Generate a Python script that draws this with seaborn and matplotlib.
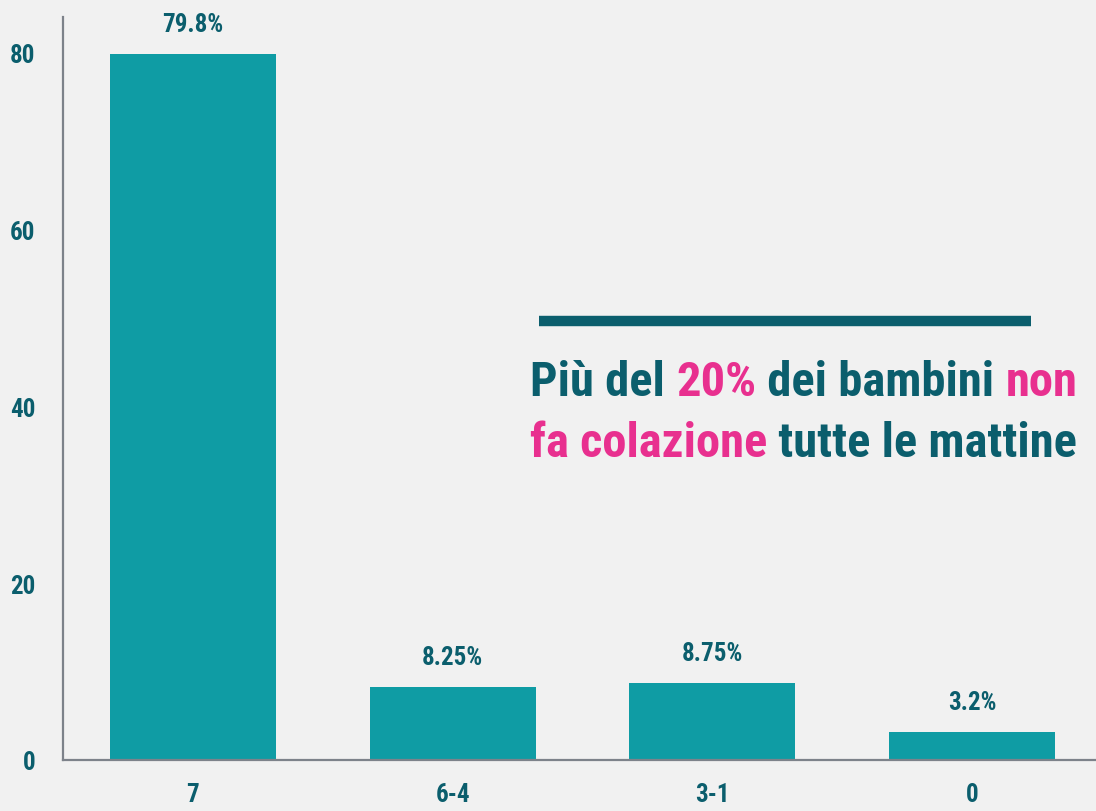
import numpy as np
import pandas as pd
import matplotlib.pyplot as plt
import seaborn as sns
from matplotlib import font_manager

# giorni a settimana in cui si fa colazione
giorni = ['7', '6-4', '3-1', '0']
percentuali = [79.8, 8.25, 8.75, 3.2]
etichette = ['79.8%', '8.25%', '8.75%', '3.2%']
y_ticks = [0, 20, 40, 60, 80]

titolo_riga1 = [('Più del ', 'teal'), ('20%', 'pink'), (' dei bambini ', 'teal'), ('non', 'pink')]
titolo_riga2 = [('fa colazione', 'pink'), (' tutte le mattine', 'teal')]

BAR = '#0f9ca4'
TEAL = '#0b5e6d'
PINK = '#e8308f'
SPINE = '#7d828a'
BG = '#f1f1f1'

# serve un carattere stretto, prendo il primo disponibile
installati = set(font_manager.fontManager.get_font_names())
candidati = ['Roboto Condensed', 'DejaVu Sans Condensed', 'Liberation Sans Narrow',
             'Open Sans Condensed', 'Roboto', 'Lato', 'Inter']
FONT = next((f for f in candidati if f in installati), 'DejaVu Sans')

sns.set_style('white')
plt.rcParams['font.family'] = [FONT, 'DejaVu Sans']
plt.rcParams['font.weight'] = 'bold'

df = pd.DataFrame({'giorni': giorni, 'perc': percentuali})

fig = plt.figure(figsize=(10.96, 8.12), dpi=100, facecolor=BG)
ax = fig.add_axes([63 / 1096, 51 / 812, 1039 / 1096, 743 / 812])
ax.set_facecolor('none')

sns.barplot(data=df, x='giorni', y='perc', color=BAR, saturation=1, width=0.64,
            edgecolor='none', linewidth=0, ax=ax)

ax.set_xlim(-0.5, 3.5)
ax.set_ylim(0, 84)
ax.set_yticks(y_ticks)
ax.set_xlabel('')
ax.set_ylabel('')
for side in ['top', 'right']:
    ax.spines[side].set_visible(False)
for side in ['left', 'bottom']:
    ax.spines[side].set_color(SPINE)
    ax.spines[side].set_linewidth(1.6)
ax.tick_params(axis='both', length=0, labelsize=18, colors=TEAL)
ax.tick_params(axis='y', pad=20)
ax.tick_params(axis='x', pad=16)
for lab in ax.get_xticklabels() + ax.get_yticklabels():
    lab.set_fontweight('bold')

for i, (v, t) in enumerate(zip(percentuali, etichette)):
    ax.annotate(t, (i, v), xytext=(0, 13), textcoords='offset points',
                ha='center', va='bottom', fontsize=18, color=TEAL, fontweight='bold')

# linea decorativa sopra al testo
fig.add_artist(plt.Line2D([539 / 1096, 1031 / 1096], [1 - 322 / 812, 1 - 322 / 812],
                          color=TEAL, linewidth=7.5, solid_capstyle='butt'))

# testo a colori alternati, dimensione scelta per occupare ~545 px in larghezza
colori = {'teal': TEAL, 'pink': PINK}
renderer = fig.canvas.get_renderer()
prova = fig.text(0, 0, ''.join(s for s, _ in titolo_riga1), fontsize=40, fontweight='bold')
larg = prova.get_window_extent(renderer).width
prova.remove()
size_titolo = 40 * 547 / larg

for riga, y_px in [(titolo_riga1, 383), (titolo_riga2, 444)]:
    x = 530 / 1096
    for testo, c in riga:
        t = fig.text(x, 1 - y_px / 812, testo, fontsize=size_titolo, color=colori[c],
                     fontweight='bold', ha='left', va='center')
        bb = t.get_window_extent(renderer)
        x = bb.x1 / fig.bbox.width

fig.savefig('out.png', dpi=100, facecolor=BG)
